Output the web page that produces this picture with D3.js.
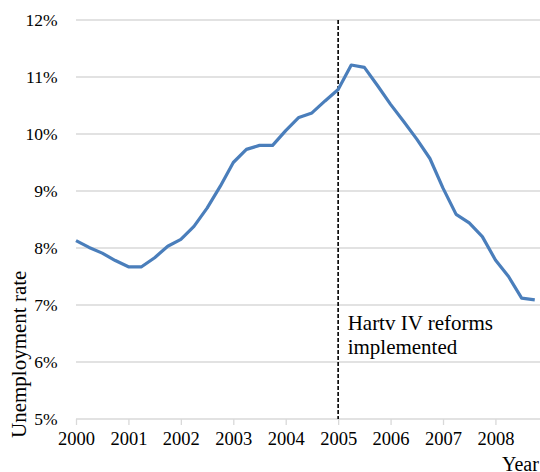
<!DOCTYPE html>
<html><head><meta charset="utf-8">
<script src="https://cdn.jsdelivr.net/npm/d3@7"></script>
<style>html,body{margin:0;padding:0;background:#fff;overflow:hidden}
svg text{font-family:"Liberation Serif","Times New Roman","DejaVu Serif",serif}</style>
</head><body>
<svg id="c" width="540" height="472"></svg>
<script>
// Quarterly unemployment rate (%), 2000 Q1 .. 2008 Q4
const quarters = d3.range(36).map(i => 2000 + i * 0.25);
const rates = [8.13, 8.01, 7.91, 7.78, 7.67, 7.67, 7.83, 8.03,
               8.15, 8.38, 8.70, 9.08, 9.50, 9.73, 9.80, 9.80,
               10.06, 10.29, 10.37, 10.58, 10.78, 11.21, 11.17, 10.85,
               10.52, 10.22, 9.91, 9.57, 9.05, 8.59, 8.44, 8.20,
               7.79, 7.50, 7.12, 7.09];
const yearTicks = [2000, 2001, 2002, 2003, 2004, 2005, 2006, 2007, 2008];
const yTicks = [5, 6, 7, 8, 9, 10, 11, 12];
const reformYear = 2005;
const annotation = ["Hartv IV reforms", "implemented"];
const yTitle = "Unemployment rate";
const xTitle = "Year";

const svg = d3.select("#c");
const font = '"Liberation Serif","Times New Roman","DejaVu Serif",serif';
const x = d3.scaleLinear().domain([2000, 2008.85]).range([76, 540]);
const y = d3.scaleLinear().domain([5, 12]).range([419, 20]);

// gridlines
svg.append("g").selectAll("line").data(yTicks).join("line")
  .attr("x1", 76).attr("x2", 540)
  .attr("y1", d => y(d)).attr("y2", d => y(d))
  .attr("stroke", "#d9d9d9").attr("stroke-width", 1.3);

// y tick labels
svg.append("g").selectAll("text").data(yTicks).join("text")
  .attr("x", 57.5).attr("y", d => y(d)).attr("dy", "0.35em")
  .attr("text-anchor", "end").style("font-family", font).style("font-size", "17.5px")
  .attr("fill", "#000").text(d => d + "%");

// x axis ticks
const xa = d3.axisBottom(x).tickValues(yearTicks).tickFormat(d3.format("d")).tickSize(6).tickPadding(7);
const gx = svg.append("g").attr("transform", `translate(0,${y(5)})`).call(xa)
  .attr("font-family", null).attr("font-size", null);
gx.select(".domain").remove();
gx.selectAll(".tick line").attr("stroke", "#d9d9d9").attr("stroke-width", 1.3);
gx.selectAll(".tick text").style("font-family", font).style("font-size", "18.5px").attr("fill", "#000");

// vertical dashed reform line
svg.append("line")
  .attr("x1", x(reformYear)).attr("x2", x(reformYear))
  .attr("y1", y(12)).attr("y2", y(5))
  .attr("stroke", "#000").attr("stroke-width", 1.6).attr("stroke-dasharray", "4,2");

// data line
const line = d3.line().x((d, i) => x(quarters[i])).y(d => y(d));
svg.append("path").datum(rates).attr("d", line)
  .attr("fill", "none").attr("stroke", "#4a7ebb").attr("stroke-width", 3.2)
  .attr("stroke-linejoin", "round");

// annotation
const ann = svg.append("text").style("font-family", font).style("font-size", "21px").attr("fill", "#000");
annotation.forEach((t, i) => ann.append("tspan").attr("x", x(reformYear) + 9.5).attr("y", 330 + i * 24).text(t));

// axis titles
svg.append("text").attr("transform", "translate(26,438) rotate(-90)")
  .style("font-family", font).style("font-size", "21px").attr("fill", "#000").text(yTitle);
svg.append("text").attr("x", 502).attr("y", 471)
  .style("font-family", font).style("font-size", "20px").attr("fill", "#000").text(xTitle);
</script>
</body></html>
